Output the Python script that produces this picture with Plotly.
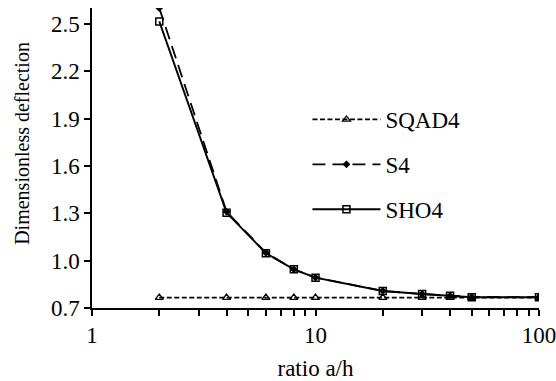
import plotly.graph_objects as go

ratio = [2, 4, 6, 8, 10, 20, 30, 40, 50, 100]
sqad4 = [0.766, 0.766, 0.766, 0.766, 0.766, 0.766, 0.766, 0.766, 0.766, 0.766]
s4 = [2.60, 1.31, 1.05, 0.945, 0.893, 0.808, 0.789, 0.778, 0.770, 0.768]
sho4 = [2.515, 1.304, 1.047, 0.945, 0.892, 0.808, 0.789, 0.778, 0.768, 0.768]

y_ticks = [0.7, 1.0, 1.3, 1.6, 1.9, 2.2, 2.5]
x_ticks = [1, 10, 100]
x_minor = [2, 3, 4, 5, 6, 7, 8, 9, 20, 30, 40, 50, 60, 70, 80, 90]

FONT = "Liberation Serif, Times New Roman, serif"

fig = go.Figure()
fig.add_trace(go.Scatter(
    x=ratio, y=sqad4, name="SQAD4", mode="lines+markers", legendgroup="a",
    line=dict(color="black", width=1.8, dash="5px,2.5px"),
    marker=dict(symbol="triangle-up-open", size=7, color="black", line=dict(width=1.3, color="black"))))
fig.add_trace(go.Scatter(
    x=ratio, y=s4, name="S4", mode="lines+markers", legendgroup="b",
    line=dict(color="black", width=1.8, dash="13px,7px"),
    marker=dict(symbol="diamond", size=6, color="black")))
fig.add_trace(go.Scatter(
    x=ratio, y=sho4, name="SHO4", mode="lines+markers", legendgroup="c",
    line=dict(color="black", width=1.9),
    marker=dict(symbol="square-open", size=7, color="black", line=dict(width=1.5, color="black"))))

fig.update_layout(
    width=556, height=381,
    margin=dict(l=92, r=17, t=8, b=73),
    paper_bgcolor="white", plot_bgcolor="white",
    font=dict(family=FONT, size=23, color="black"),
    showlegend=True,
    legend=dict(x=0.482, y=0.70, xanchor="left", yanchor="top",
                bgcolor="rgba(0,0,0,0)", font=dict(family=FONT, size=23),
                itemwidth=68, tracegroupgap=12),
    xaxis=dict(type="log", range=[0, 2], tickvals=x_ticks, ticktext=["1", "10", "100"],
               automargin=False, ticklabeloverflow="allow",
               showgrid=False, zeroline=False, showline=True, linecolor="black", linewidth=1.5,
               ticks="outside", ticklen=6, tickwidth=1.5, tickcolor="black",
               minor=dict(tickvals=x_minor, ticks="outside", ticklen=6, tickwidth=1.5, tickcolor="black", showgrid=False),
               title=dict(text="ratio a/h", font=dict(family=FONT, size=23), standoff=13),
               tickfont=dict(family=FONT, size=23)),
    yaxis=dict(range=[0.7, 2.6], tickvals=y_ticks, ticktext=[f"{v:.1f}" for v in y_ticks],
               automargin=False,
               showgrid=False, zeroline=False, showline=True, linecolor="black", linewidth=1.5,
               ticks="outside", ticklen=6, tickwidth=1.5, tickcolor="black",
               tickfont=dict(family=FONT, size=23)),
    annotations=[dict(text="Dimensionless deflection", textangle=-90, xref="paper", yref="paper",
                      x=-0.157, y=0.55, xanchor="center", yanchor="middle", showarrow=False,
                      font=dict(family=FONT, size=20))],
)

fig.write_html("out.html")
